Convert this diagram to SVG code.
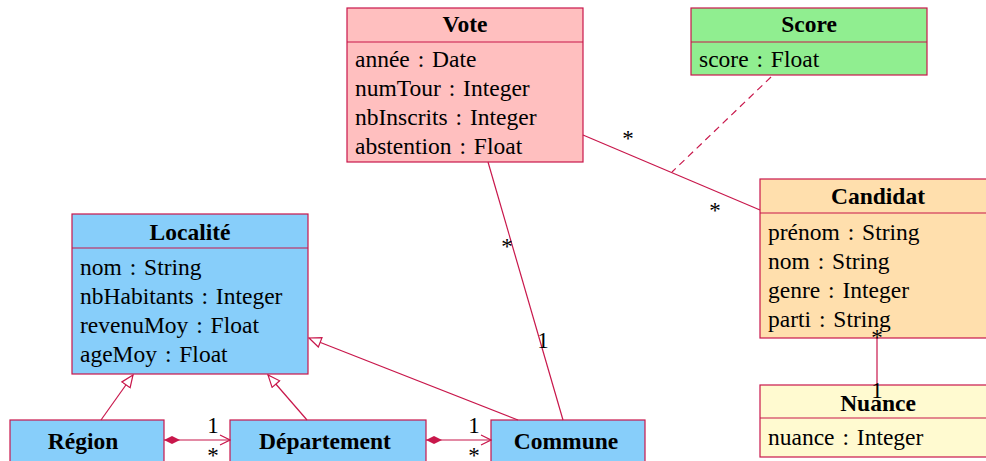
<svg xmlns="http://www.w3.org/2000/svg" width="986" height="461" viewBox="0 0 986 461">
<style>
.box{stroke:#c8174b;stroke-width:1.2}
.t{font-family:"Liberation Serif",serif;font-size:23.5px;fill:#000;word-spacing:2px}
.b{font-weight:bold;text-anchor:middle;word-spacing:0}
.ln{stroke:#c8174b;stroke-width:1.2;fill:none}
.m{font-family:"Liberation Serif",serif;font-size:23px;fill:#000;text-anchor:middle}
</style>
<defs>
<marker id="gen" viewBox="0 0 14 12" refX="13" refY="6" markerWidth="14" markerHeight="12" markerUnits="userSpaceOnUse" orient="auto">
<path d="M1,1 L13,6 L1,11 Z" fill="#fff" stroke="#c8174b" stroke-width="1.2"/>
</marker>
<marker id="dia" viewBox="0 0 18 10" refX="1" refY="5" markerWidth="18" markerHeight="10" markerUnits="userSpaceOnUse" orient="auto">
<path d="M1,5 L9,1 L17,5 L9,9 Z" fill="#c8174b"/>
</marker>
<marker id="open" viewBox="0 0 12 12" refX="11" refY="6" markerWidth="12" markerHeight="12" markerUnits="userSpaceOnUse" orient="auto">
<path d="M1,1 L11,6 L1,11" fill="none" stroke="#c8174b" stroke-width="1.2"/>
</marker>
</defs>

<g id="vote">
<rect class="box" x="347" y="8" width="236" height="154" fill="#ffbfbf"/>
<line class="box" x1="347" y1="42" x2="583" y2="42"/>
<text class="t b" x="465" y="32">Vote</text>
<text class="t" x="355" y="67">année : Date</text>
<text class="t" x="355" y="96">numTour : Integer</text>
<text class="t" x="355" y="125">nbInscrits : Integer</text>
<text class="t" x="355" y="154">abstention : Float</text>
</g>

<g id="score">
<rect class="box" x="691" y="8" width="236" height="67" fill="#90ee90"/>
<line class="box" x1="691" y1="42" x2="927" y2="42"/>
<text class="t b" x="809" y="32">Score</text>
<text class="t" x="699" y="67">score : Float</text>
</g>

<g id="candidat">
<rect class="box" x="760" y="179" width="236" height="159" fill="#ffdfad"/>
<line class="box" x1="760" y1="213" x2="996" y2="213"/>
<text class="t b" x="878" y="204">Candidat</text>
<text class="t" x="768" y="240">prénom : String</text>
<text class="t" x="768" y="269">nom : String</text>
<text class="t" x="768" y="298">genre : Integer</text>
<text class="t" x="768" y="327">parti : String</text>
</g>

<g id="nuance">
<rect class="box" x="760" y="385" width="236" height="72" fill="#fffad0"/>
<line class="box" x1="760" y1="418" x2="996" y2="418"/>
<text class="t b" x="878" y="411">Nuance</text>
<text class="t" x="768" y="445">nuance : Integer</text>
</g>

<g id="localite">
<rect class="box" x="72" y="214" width="236" height="160" fill="#87cefa"/>
<line class="box" x1="72" y1="248" x2="308" y2="248"/>
<text class="t b" x="190" y="240">Localité</text>
<text class="t" x="80" y="275">nom : String</text>
<text class="t" x="80" y="304">nbHabitants : Integer</text>
<text class="t" x="80" y="333">revenuMoy : Float</text>
<text class="t" x="80" y="362">ageMoy : Float</text>
</g>

<g id="region">
<rect class="box" x="10" y="420" width="154" height="50" fill="#87cefa"/>
<text class="t b" x="83" y="449">Région</text>
</g>

<g id="departement">
<rect class="box" x="230" y="420" width="196" height="50" fill="#87cefa"/>
<text class="t b" x="325" y="449">Département</text>
</g>

<g id="commune">
<rect class="box" x="491" y="420" width="154" height="50" fill="#87cefa"/>
<text class="t b" x="566" y="449">Commune</text>
</g>

<g id="connectors">
<line class="ln" x1="488" y1="162" x2="563" y2="420"/>
<line class="ln" x1="583" y1="135" x2="760" y2="210"/>
<line class="ln" x1="771" y1="77" x2="672" y2="172" stroke-dasharray="7,5"/>
<line class="ln" x1="877" y1="338" x2="877" y2="385"/>
<line class="ln" x1="101" y1="420" x2="133" y2="375" marker-end="url(#gen)"/>
<line class="ln" x1="307" y1="420" x2="268" y2="375" marker-end="url(#gen)"/>
<line class="ln" x1="518" y1="420" x2="309" y2="338" marker-end="url(#gen)"/>
<line class="ln" x1="164" y1="440" x2="230" y2="440" marker-start="url(#dia)" marker-end="url(#open)"/>
<line class="ln" x1="426" y1="440" x2="491" y2="440" marker-start="url(#dia)" marker-end="url(#open)"/>
<text class="m" x="507" y="254">*</text>
<text class="m" x="543" y="348">1</text>
<text class="m" x="628" y="146">*</text>
<text class="m" x="715" y="218">*</text>
<text class="m" x="877" y="345">*</text>
<text class="m" x="877" y="398">1</text>
<text class="m" x="213" y="433">1</text>
<text class="m" x="213" y="463">*</text>
<text class="m" x="474" y="433">1</text>
<text class="m" x="474" y="463">*</text>
</g>
</svg>
